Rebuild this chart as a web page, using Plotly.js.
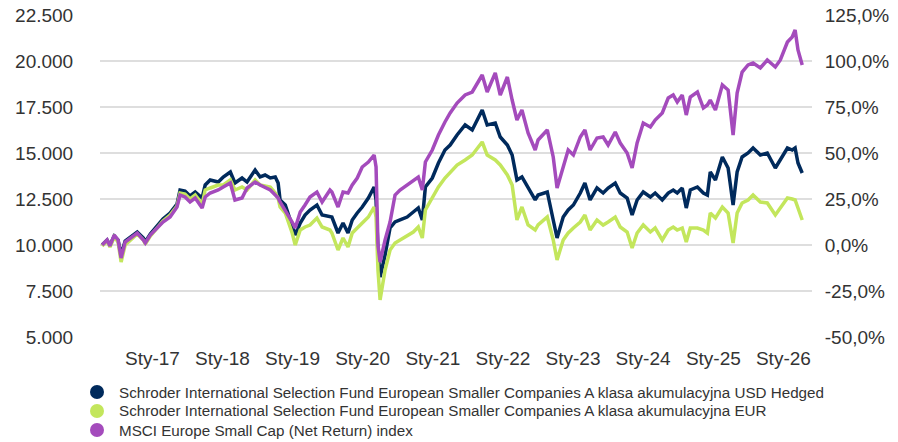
<!DOCTYPE html>
<html>
<head>
<meta charset="utf-8">
<script src="https://cdn.plot.ly/plotly-3.0.1.min.js"></script>
<style>
html,body{margin:0;padding:0;background:#fff;}
#chart{width:898px;height:442px;}
</style>
</head>
<body>
<div id="chart"></div>
<script>
const dates = [
'2016-04-14','2016-05-10','2016-05-25','2016-06-16','2016-07-06','2016-07-22','2016-08-12','2016-09-18','2016-10-14','2016-11-15','2016-11-25','2016-12-21',
'2017-01-27','2017-02-25','2017-04-03','2017-05-09','2017-05-25','2017-06-20','2017-07-16','2017-08-12','2017-09-17','2017-10-03','2017-10-29','2017-12-10',
'2018-01-05','2018-02-11','2018-03-07','2018-04-13','2018-05-09','2018-06-20','2018-07-16','2018-08-11','2018-09-07','2018-10-03','2018-10-18','2018-10-28','2018-11-24','2018-12-30',
'2019-01-15','2019-02-10','2019-03-07','2019-04-02','2019-05-08','2019-06-04','2019-07-15','2019-07-25','2019-08-26','2019-09-21','2019-10-17','2019-11-08','2019-12-04','2019-12-30',
'2020-01-31','2020-03-01','2020-03-11','2020-03-21','2020-04-01','2020-04-27','2020-05-23','2020-06-18','2020-07-14','2020-08-20','2020-09-21','2020-10-17','2020-11-07','2020-11-23','2020-12-29',
'2021-01-30','2021-03-05','2021-04-01','2021-05-07','2021-06-18','2021-07-25','2021-09-15','2021-10-11','2021-11-22','2021-12-18',
'2022-01-24','2022-02-18','2022-03-15','2022-04-10','2022-05-12','2022-06-18','2022-07-03','2022-08-20','2022-09-20','2022-10-10','2022-11-11','2022-12-07',
'2023-01-03','2023-02-08','2023-03-04','2023-03-31','2023-05-06','2023-06-07','2023-07-03','2023-08-09','2023-09-04','2023-10-10','2023-11-05','2023-12-01',
'2024-01-02','2024-02-08','2024-03-04','2024-04-10','2024-05-11','2024-06-06','2024-06-27','2024-07-23','2024-08-13','2024-09-03','2024-10-10','2024-11-10','2024-12-01','2024-12-16',
'2025-01-12','2025-02-17','2025-03-19','2025-04-14','2025-05-05','2025-05-31','2025-07-01','2025-07-27','2025-09-03','2025-10-09','2025-11-20','2025-12-16',
'2026-01-22','2026-02-16','2026-03-03','2026-03-18','2026-04-09'];

const usdHedged = [
10000,10272,10000,10489,10272,9457,10217,10489,10707,10380,10163,10598,
11087,11413,11739,12228,12989,12935,12663,12880,12554,13261,13533,13424,
13696,13967,13370,13641,13424,14076,13696,13804,13641,13696,13370,12446,12174,10978,
10543,11196,11630,11902,12174,11630,11522,11522,10652,11196,10652,11359,11739,12065,
12554,13152,12446,9728,8261,9457,10924,11250,11359,11522,11793,12011,11359,13152,13641,
14457,15163,15435,15978,16522,16250,17337,16522,16630,15870,
15435,14891,13533,13696,13098,12446,12717,12880,11359,10380,11522,11902,
12174,12826,13370,12446,13098,12826,13098,13370,12826,12554,11630,12446,
12880,12609,12826,12446,12826,12989,12826,13098,12011,12989,13152,12826,12717,13967,
13533,14783,14185,12174,13967,14783,15000,15272,14891,15000,14185,14620,
15272,15163,15272,14457,13913];

const eurClass = [
9946,10217,9891,10435,10163,9076,10000,10380,10598,10272,10054,10489,
10978,11304,11630,12120,12826,12772,12500,12717,12228,12989,13098,13261,
13261,13533,12989,13152,12989,13533,13261,13207,13152,12826,12554,12065,11739,10652,
10000,10815,10978,11087,11467,10978,10815,10652,9728,10380,9891,10652,10924,11196,
11522,12065,11522,8641,7011,8641,9728,10109,10272,10543,10707,10978,10380,11902,12609,
13152,13641,13967,14348,14620,14891,15598,14891,14620,14348,
13804,13261,11359,12065,11087,10815,11087,11522,10272,9185,10272,10652,
10924,11250,11630,10815,11359,11087,11250,11522,10978,10707,9837,10652,
11087,10707,10924,10272,10815,10978,10815,10924,10163,10924,10924,10815,10652,11739,
11467,12065,11739,10109,11739,12283,12446,12717,12337,12283,11630,12011,
12554,12500,12446,12011,11359];

const msciIndex = [
10000,10272,9946,10543,10272,9293,10163,10435,10652,10272,10109,10543,
10978,11250,11522,12065,12717,12609,12337,12554,12011,12609,12826,12989,
13152,13370,12446,12554,13098,13424,13261,13152,12989,12717,12554,12337,11902,11250,
10924,11793,12174,12609,12880,12337,12989,12880,12065,12880,12826,13261,13641,14239,
14511,14891,14239,10000,9076,10272,11250,12717,12989,13261,13533,13696,12989,14511,15163,
15978,16685,17174,17717,18152,18315,19239,18315,19348,18152,
19130,17880,16793,17337,16087,15163,15707,16250,14783,13098,14239,15163,
14891,15870,16250,15163,15815,15870,15435,16141,15543,15000,14185,15543,
16630,16413,16793,17174,17989,18152,17772,18152,17065,18043,18315,17446,17609,17880,
17337,18696,18424,15978,18261,19402,19783,19891,19620,20054,19674,20054,
21033,21304,21685,20598,19783];

const seriesNames = [
'Schroder International Selection Fund European Smaller Companies A klasa akumulacyjna USD Hedged',
'Schroder International Selection Fund European Smaller Companies A klasa akumulacyjna EUR',
'MSCI Europe Small Cap (Net Return) index'];
const seriesColors = ['#002a5c', '#c3e65c', '#a44bbc'];

const xTickVals = ['2017-01-01','2018-01-01','2019-01-01','2020-01-01','2021-01-01','2022-01-01','2023-01-01','2024-01-01','2025-01-01','2026-01-01'];
const xTickText = ['Sty-17','Sty-18','Sty-19','Sty-20','Sty-21','Sty-22','Sty-23','Sty-24','Sty-25','Sty-26'];
const yTickVals = [5000,7500,10000,12500,15000,17500,20000,22500];
const yTickText = ['5.000','7.500','10.000','12.500','15.000','17.500','20.000','22.500'];
const y2TickVals = [-50,-25,0,25,50,75,100,125];
const y2TickText = ['-50,0%','-25,0%','0,0%','25,0%','50,0%','75,0%','100,0%','125,0%'];

const seriesValues = [usdHedged, eurClass, msciIndex];
const FONT = 'Liberation Sans, Arial, sans-serif';

const M = {l: 100, r: 86, t: 15, b: 105};
const W = 898, H = 442;
const plotW = W - M.l - M.r, plotH = H - M.t - M.b;
const px2x = px => (px - M.l) / plotW;
const py2y = py => (H - M.b - py) / plotH;
const legendRowsY = [392, 411, 430];

const traces = [];
seriesValues.forEach((vals, i) => {
  traces.push({
    type: 'scatter', mode: 'lines', x: dates, y: vals, name: seriesNames[i],
    line: {color: seriesColors[i], width: 3.5},
    showlegend: false, hoverinfo: 'skip'
  });
});
traces.push({type:'scatter', mode:'lines', x:[null], y:[null], yaxis:'y2', showlegend:false, hoverinfo:'skip'});

const annotations = seriesNames.map((name, i) => ({
  xref: 'paper', yref: 'paper', x: px2x(117), y: py2y(legendRowsY[i]),
  xanchor: 'left', yanchor: 'middle', text: name, showarrow: false,
  font: {size: 15.2, family: FONT, color: '#333333'}
}));
const shapes = seriesNames.map((name, i) => ({
  type: 'circle', xref: 'paper', yref: 'paper',
  xsizemode: 'pixel', ysizemode: 'pixel',
  xanchor: px2x(97), yanchor: py2y(legendRowsY[i]),
  x0: -7, x1: 7, y0: -7, y1: 7,
  fillcolor: seriesColors[i], line: {width: 0}
}));

const layout = {
  width: W, height: H,
  margin: M,
  paper_bgcolor: '#ffffff', plot_bgcolor: '#ffffff',
  font: {family: FONT, color: '#333333', size: 19},
  showlegend: false,
  xaxis: {
    type: 'date', range: ['2016-04-03', '2026-05-30'],
    tickvals: xTickVals, ticktext: xTickText,
    showgrid: false, zeroline: false, showline: false,
    ticks: 'outside', ticklen: 4, tickcolor: 'rgba(0,0,0,0)',
    tickfont: {size: 19, family: FONT, color: '#333333'}
  },
  yaxis: {
    range: [5000, 22500], tickvals: yTickVals, ticktext: yTickText,
    showgrid: true, gridcolor: '#dedede', gridwidth: 2,
    zeroline: false, showline: false,
    ticks: 'outside', ticklen: 22, tickcolor: 'rgba(0,0,0,0)',
    tickfont: {size: 19, family: FONT, color: '#333333'}
  },
  yaxis2: {
    overlaying: 'y', side: 'right', range: [-50, 125],
    tickvals: y2TickVals, ticktext: y2TickText,
    showgrid: false, zeroline: false, showline: false,
    ticks: 'outside', ticklen: 8, tickcolor: 'rgba(0,0,0,0)',
    tickfont: {size: 19, family: FONT, color: '#333333'}
  },
  annotations: annotations,
  shapes: shapes
};

Plotly.newPlot('chart', traces, layout, {displayModeBar: false, staticPlot: true});
</script>
</body>
</html>
